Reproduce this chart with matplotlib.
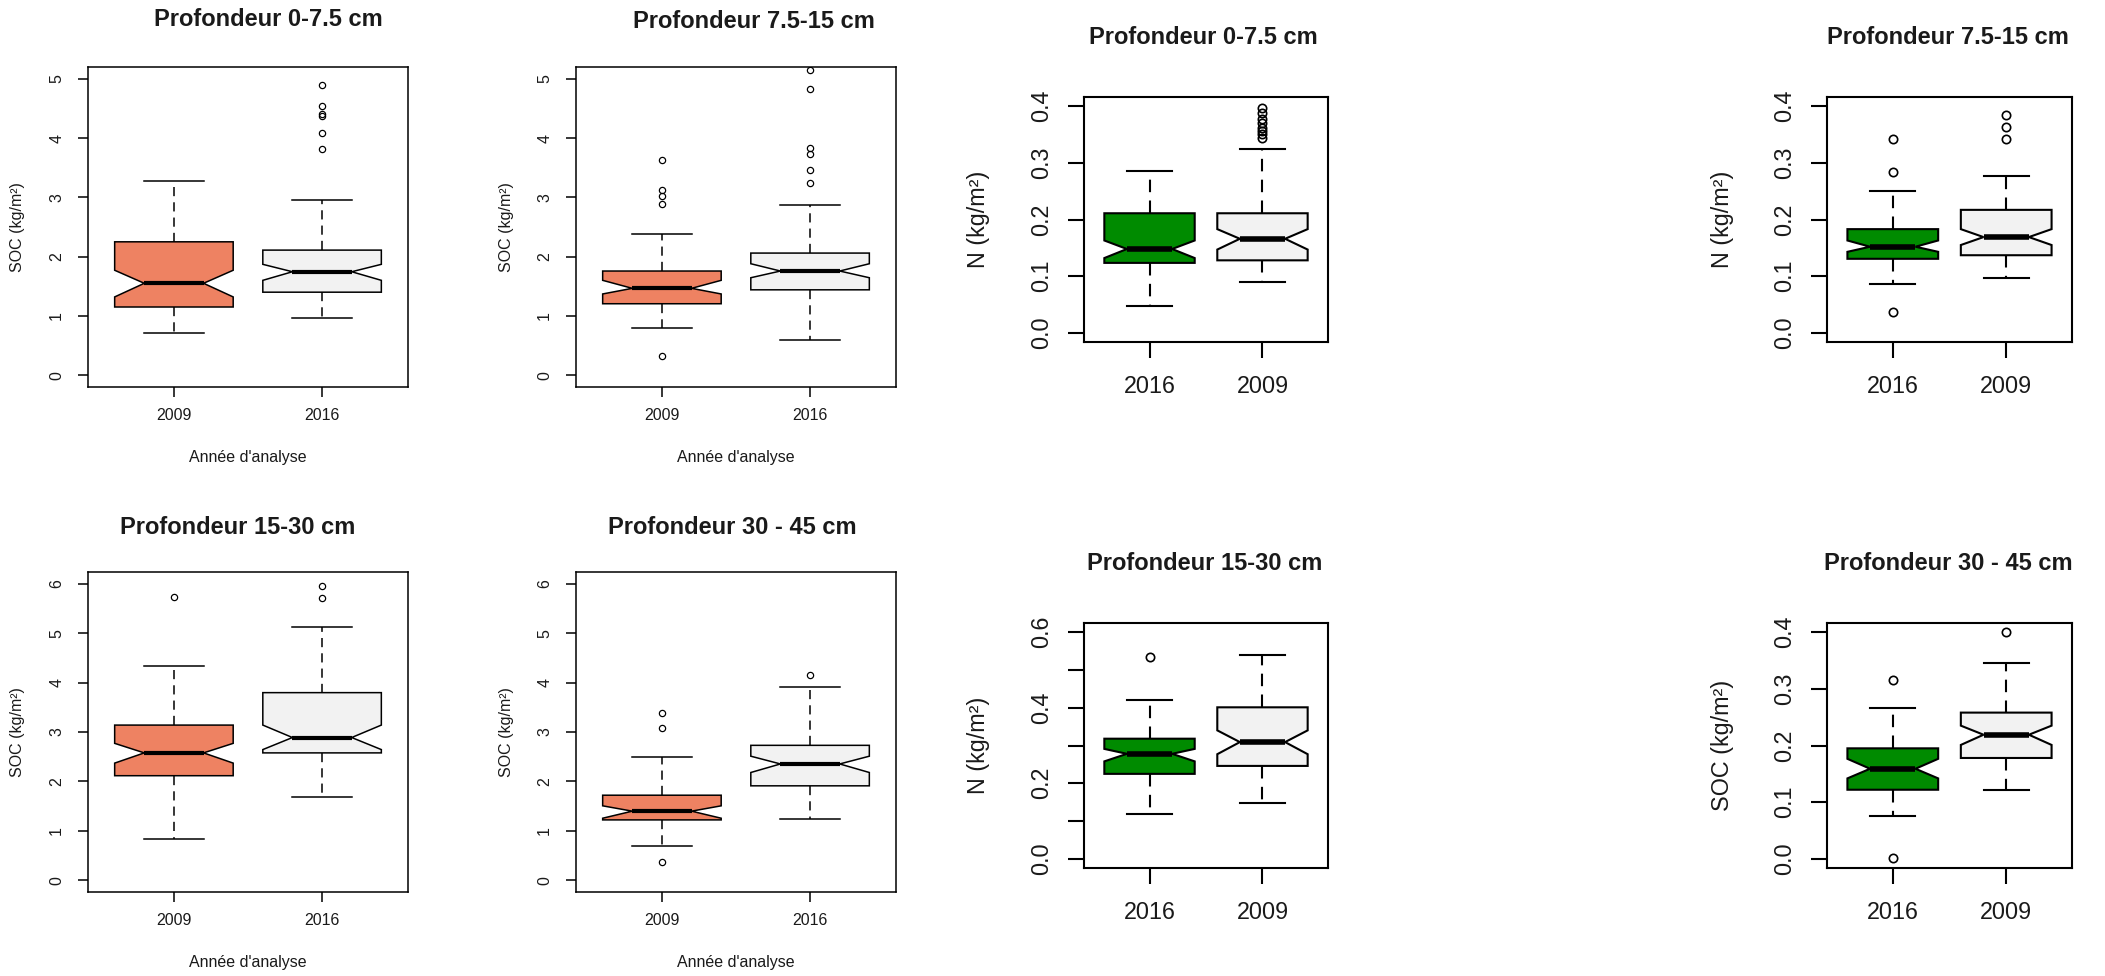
import matplotlib
matplotlib.use('Agg')
import matplotlib.pyplot as plt

plt.rcParams['font.family'] = ['Liberation Sans', 'DejaVu Sans']

W, H = 2105, 976

years_soc = ['2009', '2016']
years_n = ['2016', '2009']

# boites : [moustache basse, q1, encoche basse, mediane, encoche haute, q3, moustache haute]
soc_0_7_2009 = [0.71, 1.15, 1.32, 1.55, 1.77, 2.25, 3.28]
soc_0_7_2016 = [0.97, 1.40, 1.60, 1.745, 1.87, 2.11, 2.96]
soc_0_7_out_2009 = []
soc_0_7_out_2016 = [4.89, 4.54, 4.41, 4.38, 4.08, 3.82]

soc_7_15_2009 = [0.80, 1.205, 1.37, 1.465, 1.60, 1.757, 2.39]
soc_7_15_2016 = [0.60, 1.44, 1.644, 1.757, 1.88, 2.06, 2.87]
soc_7_15_out_2009 = [3.63, 3.12, 3.02, 2.88, 0.32]
soc_7_15_out_2016 = [5.15, 4.83, 3.83, 3.73, 3.47, 3.25]

soc_15_30_2009 = [0.827, 2.115, 2.37, 2.577, 2.77, 3.14, 4.34]
soc_15_30_2016 = [1.68, 2.577, 2.644, 2.888, 3.14, 3.797, 5.13]
soc_15_30_out_2009 = [5.73]
soc_15_30_out_2016 = [5.95, 5.71]

soc_30_45_2009 = [0.698, 1.22, 1.254, 1.397, 1.505, 1.72, 2.50]
soc_30_45_2016 = [1.24, 1.91, 2.18, 2.353, 2.51, 2.73, 3.92]
soc_30_45_out_2009 = [3.39, 3.09, 0.36]
soc_30_45_out_2016 = [4.155]

n_0_7_2016 = [0.048, 0.1235, 0.132, 0.148, 0.163, 0.211, 0.286]
n_0_7_2009 = [0.090, 0.128, 0.147, 0.166, 0.183, 0.211, 0.324]
n_0_7_out_2016 = []
n_0_7_out_2009 = [0.397, 0.387, 0.378, 0.370, 0.362, 0.356, 0.350, 0.344]

n_7_15_2016 = [0.086, 0.1307, 0.143, 0.152, 0.163, 0.183, 0.251]
n_7_15_2009 = [0.097, 0.137, 0.155, 0.169, 0.183, 0.217, 0.276]
n_7_15_out_2016 = [0.342, 0.283, 0.037]
n_7_15_out_2009 = [0.385, 0.363, 0.342]

n_15_30_2016 = [0.118, 0.225, 0.258, 0.278, 0.291, 0.318, 0.42]
n_15_30_2009 = [0.149, 0.246, 0.277, 0.309, 0.34, 0.401, 0.539]
n_15_30_out_2016 = [0.534]
n_15_30_out_2009 = []

n_30_45_2016 = [0.0765, 0.122, 0.142, 0.159, 0.1765, 0.195, 0.2665]
n_30_45_2009 = [0.121, 0.178, 0.201, 0.219, 0.235, 0.258, 0.345]
n_30_45_out_2016 = [0.315, 0.001]
n_30_45_out_2009 = [0.40]

soc_ticks = [0, 1, 2, 3, 4, 5]
soc_ticks_deep = [0, 1, 2, 3, 4, 5, 6]
n_ticks = [0.0, 0.1, 0.2, 0.3, 0.4]
n_ticks_deep = [0.0, 0.1, 0.2, 0.3, 0.4, 0.5, 0.6]
n_ticklabels_deep = ['0.0', '', '0.2', '', '0.4', '', '0.6']

orange = '#EE8262'
green = '#008B00'
grey = '#F2F2F2'
txt = '#1a1a1a'

small = dict(lw=1.1, med=3.0, ms=4.5, fs=11.5, tl=7.5, xpad=7.6, ypad=15, ylab=-70)
big = dict(lw=1.5, med=4.0, ms=6.0, fs=16.8, tl=11.2, xpad=12.5, ypad=19, ylab=-105)


def stats(vals, fliers, label):
    lo, q1, cilo, med, cihi, q3, hi = vals
    return dict(whislo=lo, q1=q1, cilo=cilo, med=med, cihi=cihi, q3=q3,
                whishi=hi, fliers=fliers, label=label)


def panel(fig, box, st, title, tpos, ylabel, years, b1, o1, b2, o2, cols,
          ylim, yticks, yticklabels=None, xlabel_y=None):
    x0, y0, x1, y1 = box
    ax = fig.add_axes([x0 / W, 1 - y1 / H, (x1 - x0) / W, (y1 - y0) / H])
    lw = st['lw']
    res = ax.bxp([stats(b1, o1, years[0]), stats(b2, o2, years[1])],
                 positions=[1, 2], widths=0.8, shownotches=True, patch_artist=True,
                 boxprops=dict(edgecolor='black', linewidth=lw),
                 whiskerprops=dict(color='black', linewidth=lw, linestyle=(0, (6, 4))),
                 capprops=dict(color='black', linewidth=lw),
                 medianprops=dict(color='black', linewidth=st['med'], solid_capstyle='butt'),
                 flierprops=dict(marker='o', markerfacecolor='none', markeredgecolor='black',
                                 markersize=st['ms'], markeredgewidth=lw * 0.8))
    for patch, c in zip(res['boxes'], cols):
        patch.set_facecolor(c)
    ax.set_xlim(0.42, 2.58)
    ax.set_ylim(*ylim)
    for sp in ax.spines.values():
        sp.set_linewidth(lw)
    ax.set_xticks([1, 2], years, fontsize=st['fs'], color=txt)
    if yticklabels is None:
        yticklabels = [('%g' % t) if isinstance(t, int) else '%.1f' % t for t in yticks]
    ax.set_yticks(yticks)
    ax.set_yticklabels(yticklabels, rotation=90, ha='center', va='center',
                       rotation_mode='default', fontsize=st['fs'], color=txt)
    ax.tick_params(axis='x', length=st['tl'], width=lw, pad=st['xpad'])
    ax.tick_params(axis='y', length=st['tl'], width=lw, pad=st['ypad'])
    fig.text(tpos[0] / W, 1 - tpos[1] / H, title, fontsize=17, fontweight='bold',
             ha='center', va='center', color=txt)
    fig.text((x0 + st['ylab']) / W, 1 - (y0 + y1) / 2 / H, ylabel, rotation=90,
             fontsize=st['fs'], ha='center', va='center', color=txt)
    if xlabel_y is not None:
        fig.text((x0 + x1) / 2 / W, 1 - xlabel_y / H, "Ann\u00e9e d'analyse",
                 fontsize=st['fs'], ha='center', va='center', color=txt)
    return ax


fig = plt.figure(figsize=(W / 100, H / 100), dpi=100, facecolor='white')

soc_lab = 'SOC (kg/m\u00b2)'
n_lab = 'N (kg/m\u00b2)'

panel(fig, (88, 67, 408, 387), small, 'Profondeur 0-7.5 cm', (268, 20), soc_lab, years_soc,
      soc_0_7_2009, soc_0_7_out_2009, soc_0_7_2016, soc_0_7_out_2016, [orange, grey],
      (-0.2, 5.2), soc_ticks, xlabel_y=457)
panel(fig, (576, 67, 896, 387), small, 'Profondeur 7.5-15 cm', (754, 22), soc_lab, years_soc,
      soc_7_15_2009, soc_7_15_out_2009, soc_7_15_2016, soc_7_15_out_2016, [orange, grey],
      (-0.2, 5.2), soc_ticks, xlabel_y=457)
panel(fig, (88, 572, 408, 892), small, 'Profondeur 15-30 cm', (238, 528), soc_lab, years_soc,
      soc_15_30_2009, soc_15_30_out_2009, soc_15_30_2016, soc_15_30_out_2016, [orange, grey],
      (-0.24, 6.24), soc_ticks_deep, xlabel_y=963)
panel(fig, (576, 572, 896, 892), small, 'Profondeur 30 - 45 cm', (732, 527), soc_lab, years_soc,
      soc_30_45_2009, soc_30_45_out_2009, soc_30_45_2016, soc_30_45_out_2016, [orange, grey],
      (-0.24, 6.24), soc_ticks_deep, xlabel_y=963)

panel(fig, (1084, 97, 1328, 342), big, 'Profondeur 0-7.5 cm', (1203, 37), n_lab, years_n,
      n_0_7_2016, n_0_7_out_2016, n_0_7_2009, n_0_7_out_2009, [green, grey],
      (-0.016, 0.416), n_ticks)
panel(fig, (1827, 97, 2072, 342), big, 'Profondeur 7.5-15 cm', (1948, 37), n_lab, years_n,
      n_7_15_2016, n_7_15_out_2016, n_7_15_2009, n_7_15_out_2009, [green, grey],
      (-0.016, 0.416), n_ticks)
panel(fig, (1084, 623, 1328, 868), big, 'Profondeur 15-30 cm', (1205, 564), n_lab, years_n,
      n_15_30_2016, n_15_30_out_2016, n_15_30_2009, n_15_30_out_2009, [green, grey],
      (-0.024, 0.624), n_ticks_deep, n_ticklabels_deep)
panel(fig, (1827, 623, 2072, 868), big, 'Profondeur 30 - 45 cm', (1948, 563), soc_lab, years_n,
      n_30_45_2016, n_30_45_out_2016, n_30_45_2009, n_30_45_out_2009, [green, grey],
      (-0.016, 0.416), n_ticks)

fig.savefig('out.png', dpi=100, facecolor='white')
